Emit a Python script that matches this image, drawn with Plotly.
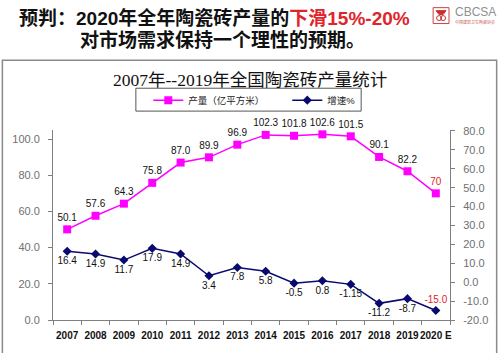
import plotly.graph_objects as go

years = ["2007", "2008", "2009", "2010", "2011", "2012", "2013", "2014",
         "2015", "2016", "2017", "2018", "2019", "2020 E"]
production = [50.1, 57.6, 64.3, 75.8, 87.0, 89.9, 96.9, 102.3, 101.8, 102.6, 101.5, 90.1, 82.2, 70]
production_labels = ["50.1", "57.6", "64.3", "75.8", "87.0", "89.9", "96.9", "102.3",
                     "101.8", "102.6", "101.5", "90.1", "82.2", "70"]
growth = [16.4, 14.9, 11.7, 17.9, 14.9, 3.4, 7.8, 5.8, -0.5, 0.8, -1.15, -11.2, -8.7, -15.0]
growth_labels = ["16.4", "14.9", "11.7", "17.9", "14.9", "3.4", "7.8", "5.8",
                 "-0.5", "0.8", "-1.15", "-11.2", "-8.7", "-15.0"]
left_ticks = [0, 20, 40, 60, 80, 100]
right_ticks = [-20, -10, 0, 10, 20, 30, 40, 50, 60, 70, 80]

W, H = 500, 353
L, R, T, B = 52, 48, 130, 32
PW, PH = W - L - R, H - T - B


def px(x):
    return (x - L) / PW


def py(y):
    return (H - B - y) / PH


FONT = "Liberation Sans, Arial, Noto Sans CJK SC"
RED = "#E0242C"

fig = go.Figure()
fig.add_trace(go.Scatter(
    x=years, y=production, name="产量（亿平方米）", mode="lines+markers+text",
    line=dict(color="#FF00FF", width=1.5),
    marker=dict(symbol="square", size=8, color="#FF00FF"),
    text=production_labels, textposition="top center",
    textfont=dict(family=FONT, size=10,
                  color=["#111111"] * (len(years) - 1) + [RED]),
    yaxis="y", cliponaxis=False,
))
fig.add_trace(go.Scatter(
    x=years, y=growth, name="增速%", mode="lines+markers+text",
    line=dict(color="#0A0A6E", width=1.5),
    marker=dict(symbol="diamond", size=7, color="#0A0A6E"),
    text=growth_labels,
    textposition=["bottom center"] * (len(years) - 1) + ["top center"],
    textfont=dict(family=FONT, size=10,
                  color=["#111111"] * (len(years) - 1) + [RED]),
    yaxis="y2", cliponaxis=False,
))

fig.update_layout(
    width=W, height=H,
    margin=dict(l=L, r=R, t=T, b=B),
    paper_bgcolor="white", plot_bgcolor="white",
    showlegend=True,
    legend=dict(
        orientation="h", x=px(148), y=py(100), xanchor="left", yanchor="middle",
        borderwidth=0, bgcolor="rgba(0,0,0,0)",
        font=dict(family=FONT, size=9.5, color="#222222"),
        entrywidth=94, itemwidth=30,
    ),
    xaxis=dict(
        type="category", range=[-0.5, len(years) - 0.5],
        showline=True, linecolor="#808080", linewidth=1,
        ticks="outside", ticklen=4, tickcolor="#808080", tickson="boundaries",
        tickangle=0, ticklabelstandoff=6,
        tickfont=dict(family=FONT, size=10, color="#111111", weight="bold"),
        showgrid=False, zeroline=False,
    ),
    yaxis=dict(
        range=[0, 105], tickvals=left_ticks, ticktext=[f"{v:.1f}" for v in left_ticks],
        showline=True, linecolor="#808080", linewidth=1,
        ticks="outside", ticklen=4, tickcolor="#808080",
        tickfont=dict(family=FONT, size=11, color="#707070"),
        showgrid=False, zeroline=False, ticklabelstandoff=6,
    ),
    yaxis2=dict(
        range=[-20, 80.5], overlaying="y", side="right",
        tickvals=right_ticks, ticktext=[f"{v:.1f}" for v in right_ticks],
        showline=True, linecolor="#808080", linewidth=1,
        ticks="outside", ticklen=4, tickcolor="#808080",
        tickfont=dict(family=FONT, size=11, color="#707070"),
        showgrid=False, zeroline=False, ticklabelstandoff=6,
    ),
)

# chart frame
fig.add_shape(type="rect", xref="paper", yref="paper",
              x0=px(1), x1=px(499), y0=py(360), y1=py(60),
              line=dict(color="#8A8A8A", width=1.5), layer="below")
# legend box
fig.add_shape(type="rect", xref="paper", yref="paper",
              x0=px(135.5), x1=px(362.5), y0=py(111), y1=py(88),
              line=dict(color="#555555", width=1), layer="below")

# chart title
fig.add_annotation(xref="paper", yref="paper", x=px(250), y=py(80),
                   text="2007年--2019年全国陶瓷砖产量统计", showarrow=False,
                   font=dict(family="Liberation Serif, Noto Sans CJK SC", size=17.5, color="#111111"),
                   xanchor="center", yanchor="middle")

# header
fig.add_annotation(xref="paper", yref="paper", x=px(215), y=py(17),
                   text="<b>预判：2020年全年陶瓷砖产量的<span style='color:" + RED + "'>下滑15%-20%</span></b>",
                   showarrow=False, font=dict(family=FONT, size=19, color="#111111"),
                   xanchor="center", yanchor="middle")
fig.add_annotation(xref="paper", yref="paper", x=px(223), y=py(40),
                   text="<b>对市场需求保持一个理性的预期。</b>",
                   showarrow=False, font=dict(family=FONT, size=19, color="#111111"),
                   xanchor="center", yanchor="middle")

# logo
fig.add_shape(type="rect", xref="paper", yref="paper",
              x0=px(435), x1=px(451), y0=py(23), y1=py(7),
              line=dict(color="#D04040", width=1), fillcolor="white")
fig.add_shape(type="path", xref="paper", yref="paper",
              path=f"M {px(438)},{py(10)} L {px(448)},{py(10)} L {px(445)},{py(14)} L {px(441)},{py(14)} Z",
              line=dict(color="#C83030", width=1), fillcolor="#C83030")
fig.add_shape(type="circle", xref="paper", yref="paper",
              x0=px(438.5), x1=px(443.5), y0=py(20), y1=py(15),
              line=dict(color="#C83030", width=1))
fig.add_shape(type="circle", xref="paper", yref="paper",
              x0=px(442.5), x1=px(447.5), y0=py(20), y1=py(15),
              line=dict(color="#C83030", width=1))
fig.add_annotation(xref="paper", yref="paper", x=px(455), y=py(11),
                   text="CBCSA", showarrow=False,
                   font=dict(family=FONT, size=12, color="#909090"),
                   xanchor="left", yanchor="middle")
fig.add_annotation(xref="paper", yref="paper", x=px(455), y=py(21),
                   text="中国建筑卫生陶瓷协会", showarrow=False,
                   font=dict(family="Noto Sans CJK SC", size=4, color="#C86060"),
                   xanchor="left", yanchor="middle")

fig.write_html("out.html")
